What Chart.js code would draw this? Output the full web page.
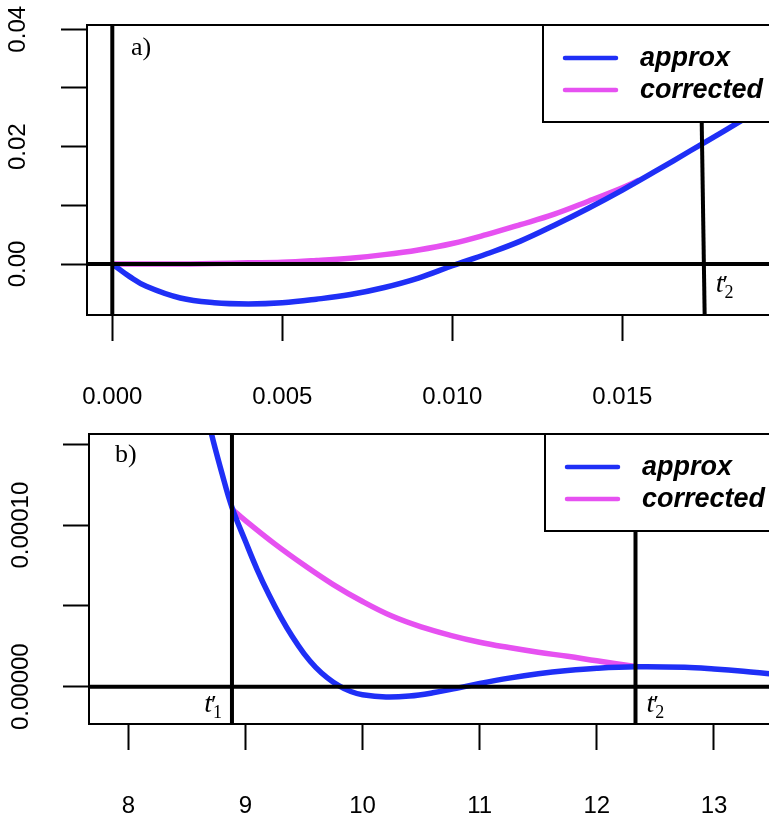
<!DOCTYPE html>
<html>
<head>
<meta charset="utf-8">
<script src="https://cdn.jsdelivr.net/npm/chart.js@4.4.1/dist/chart.umd.min.js"></script>
<style>
html, body { margin: 0; padding: 0; background: #fff; overflow: hidden; }
#wrap { position: relative; width: 769px; height: 817px; overflow: hidden; }
canvas { position: absolute; left: 0; }
#chartA { top: 0; }
#chartB { top: 410px; }
</style>
</head>
<body>
<div id="wrap">
  <canvas id="chartA" width="800" height="410"></canvas>
  <canvas id="chartB" width="800" height="407"></canvas>
</div>
<script>
// Panel a) data
const aX = [0, 0.0005, 0.001, 0.002, 0.003, 0.004, 0.005, 0.006, 0.007, 0.008, 0.009,
            0.010, 0.011, 0.012, 0.013, 0.014, 0.015, 0.016, 0.017, 0.018, 0.019, 0.020];
const aApprox = [0, -0.0021, -0.0038, -0.0058, -0.0066, -0.0068, -0.0066, -0.0060, -0.0052, -0.0040, -0.0024,
                 -0.0003, 0.0017, 0.0039, 0.0066, 0.0095, 0.0126, 0.0159, 0.0193, 0.0227, 0.0262, 0.0298];
const aCorrX = [0, 0.001, 0.002, 0.003, 0.004, 0.005, 0.006, 0.007, 0.008, 0.009,
                0.010, 0.011, 0.012, 0.013, 0.014, 0.015, 0.0155];
const aCorrected = [0, 0.0000, 0.0000, 0.0001, 0.0002, 0.0003, 0.0006, 0.0010, 0.0016, 0.0024,
                    0.0035, 0.0050, 0.0067, 0.0085, 0.0107, 0.0130, 0.0143];
const aXTicks = [0, 0.005, 0.010, 0.015];
const aXLabels = ['0.000', '0.005', '0.010', '0.015'];
const aYTicks = [0, 0.01, 0.02, 0.03, 0.04];
const aYLabels = ['0.00', '', '0.02', '', '0.04'];
const aXRange = [-0.000744, 0.01993];
const aYRange = [-0.00869, 0.04073];
const aT2Top = 0.01729;     // t'2 line leans slightly
const aT2Bottom = 0.01742;

// Panel b) data
const bX = [8.6, 8.7, 8.8, 8.885, 9.0, 9.1, 9.2, 9.3, 9.4, 9.5, 9.6, 9.7, 9.8, 9.9, 10.0,
            10.2, 10.4, 10.6, 10.8, 11.0, 11.25, 11.5, 11.75, 12.0, 12.33, 12.75, 13.0, 13.25, 13.5, 13.7];
const bApprox = [1.93e-4, 1.595e-4, 1.32e-4, 1.11e-4, 9.0e-5, 7.25e-5, 5.7e-5, 4.32e-5, 3.1e-5, 2.05e-5,
                 1.2e-5, 5.5e-6, 5e-7, -3.0e-6, -5.0e-6, -6.4e-6, -5.8e-6, -3.8e-6, -1.0e-6, 2.0e-6,
                 5.3e-6, 8.0e-6, 1.0e-5, 1.14e-5, 1.23e-5, 1.2e-5, 1.1e-5, 9.6e-6, 7.8e-6, 6.5e-6];
const bCorrX = [8.885, 9.0, 9.25, 9.5, 9.75, 10.0, 10.25, 10.5, 10.75, 11.0, 11.25, 11.5, 11.75, 12.0, 12.33];
const bCorrected = [1.10e-4, 1.028e-4, 8.84e-5, 7.53e-5, 6.32e-5, 5.27e-5, 4.37e-5, 3.7e-5, 3.18e-5,
                    2.75e-5, 2.42e-5, 2.13e-5, 1.88e-5, 1.6e-5, 1.25e-5];
const bXTicks = [8, 9, 10, 11, 12, 13];
const bXLabels = ['8', '9', '10', '11', '12', '13'];
const bYTicks = [0, 0.00005, 0.00010, 0.00015];
const bYLabels = ['0.00000', '', '0.00010', ''];
const bXRange = [7.6645, 13.649];
const bYRange = [-0.0000231, 0.0001564];
const bT1 = 8.885;
const bT2 = 12.33;

const SANS = "'Liberation Sans', Arial, sans-serif";
const SERIF = "'Liberation Serif', 'DejaVu Serif', serif";
const BLUE = '#1f2ff6';
const MAGENTA = '#e651f1';

const seriesLabels = ['approx', 'corrected'];

function pts(xs, ys) {
    return xs.map((x, i) => ({ x: x, y: ys[i] }));
}

// Draw t' with stacked prime and subscript
function drawPrime(ctx, xPix, yBase, sub, side) {
    ctx.save();
    ctx.fillStyle = '#000';
    ctx.textBaseline = 'alphabetic';
    ctx.textAlign = 'left';
    ctx.font = `italic 28px ${SERIF}`;
    const wt = ctx.measureText('t').width;
    ctx.font = `18px ${SERIF}`;
    const ws = ctx.measureText(sub).width;
    const total = wt + 1 + ws;
    const x0 = side === 'right' ? xPix + 11 : xPix - 10 - total;
    ctx.font = `italic 28px ${SERIF}`;
    ctx.fillText('t', x0, yBase);
    ctx.font = `26px ${SERIF}`;
    ctx.fillText('\u2032', x0 + wt - 1, yBase + 1);
    ctx.font = `18px ${SERIF}`;
    ctx.fillText(sub, x0 + wt + 1, yBase + 6);
    ctx.restore();
}

function makePanel(canvasId, cfg) {
    const rPlot = {
        id: 'rPlot',
        afterDraw(chart) {
            const { ctx, chartArea: ca } = chart;
            const y = chart.scales.y;
            const x = chart.scales.x;
            ctx.save();

            // plot box
            ctx.strokeStyle = '#000';
            ctx.lineWidth = 2;
            ctx.strokeRect(ca.left, ca.top, ca.right - ca.left, ca.bottom - ca.top);

            // rotated y tick labels
            ctx.fillStyle = '#000';
            ctx.font = `24px ${SANS}`;
            ctx.textAlign = 'center';
            ctx.textBaseline = 'middle';
            cfg.yTicks.forEach((v, i) => {
                if (!cfg.yLabels[i]) return;
                ctx.save();
                ctx.translate(cfg.yLabelX, y.getPixelForValue(v));
                ctx.rotate(-Math.PI / 2);
                ctx.fillText(cfg.yLabels[i], 0, 0);
                ctx.restore();
            });

            // panel tag
            ctx.font = `26px ${SERIF}`;
            ctx.textAlign = 'left';
            ctx.textBaseline = 'alphabetic';
            ctx.fillText(cfg.tag, ca.left + cfg.tagPos[0], ca.top + cfg.tagPos[1]);

            // t' labels
            const yBase = y.getPixelForValue(0) + cfg.primeDy;
            cfg.primes.forEach(p => drawPrime(ctx, x.getPixelForValue(p.x), yBase, p.sub, p.side));

            // legend
            const lx = ca.left + 456;
            const ly = ca.top;
            ctx.fillStyle = '#fff';
            ctx.fillRect(lx, ly, ca.right - lx + 5, 97);
            ctx.strokeStyle = '#000';
            ctx.lineWidth = 2;
            ctx.strokeRect(lx, ly, ca.right - lx + 5, 97);
            ctx.lineWidth = 4.5;
            ctx.lineCap = 'round';
            [BLUE, MAGENTA].forEach((c, i) => {
                ctx.strokeStyle = c;
                ctx.beginPath();
                ctx.moveTo(lx + 22, ly + 33 + i * 32);
                ctx.lineTo(lx + 73, ly + 33 + i * 32);
                ctx.stroke();
            });
            ctx.fillStyle = '#000';
            ctx.font = `italic bold 27px ${SANS}`;
            ctx.textBaseline = 'middle';
            seriesLabels.forEach((s, i) => ctx.fillText(s, lx + 97, ly + 34 + i * 32));
            ctx.restore();
        }
    };

    const black = (data) => ({
        data: data, borderColor: '#000', borderWidth: 4, pointRadius: 0,
        fill: false, tension: 0, order: 0, clip: 0, borderCapStyle: 'butt'
    });

    return new Chart(document.getElementById(canvasId), {
        type: 'line',
        data: {
            datasets: [
                ...cfg.refLines.map(black),
                {
                    label: seriesLabels[0],
                    data: cfg.approx,
                    borderColor: BLUE,
                    borderWidth: 5.5,
                    pointRadius: 0,
                    fill: false,
                    tension: 0.4,
                    order: 1,
                    clip: 0
                },
                {
                    label: seriesLabels[1],
                    data: cfg.corrected,
                    borderColor: MAGENTA,
                    borderWidth: 5.5,
                    pointRadius: 0,
                    fill: false,
                    tension: 0.4,
                    order: 2,
                    clip: 0
                }
            ]
        },
        options: {
            responsive: false,
            animation: false,
            devicePixelRatio: 1,
            layout: { padding: { left: 0, right: 10, top: cfg.padTop, bottom: 0 } },
            plugins: {
                legend: { display: false },
                tooltip: { enabled: false }
            },
            scales: {
                x: {
                    type: 'linear',
                    min: cfg.xRange[0],
                    max: cfg.xRange[1],
                    afterBuildTicks: s => { s.ticks = cfg.xTicks.map(v => ({ value: v })); },
                    afterFit: s => { s.height = cfg.xAxisHeight; },
                    grid: { drawOnChartArea: false, drawTicks: true, tickLength: 26, tickWidth: 2, tickColor: '#000' },
                    border: { display: false },
                    ticks: {
                        padding: 42,
                        color: '#000',
                        maxRotation: 0,
                        autoSkip: false,
                        font: { family: SANS, size: 24 },
                        callback: (v, i) => cfg.xLabels[i]
                    }
                },
                y: {
                    type: 'linear',
                    min: cfg.yRange[0],
                    max: cfg.yRange[1],
                    afterBuildTicks: s => { s.ticks = cfg.yTicks.map(v => ({ value: v })); },
                    afterFit: s => { s.width = cfg.yAxisWidth; },
                    grid: { drawOnChartArea: false, drawTicks: true, tickLength: 26, tickWidth: 2, tickColor: '#000' },
                    border: { display: false },
                    ticks: { display: false }
                }
            }
        },
        plugins: [rPlot]
    });
}

makePanel('chartA', {
    approx: pts(aX, aApprox),
    corrected: pts(aCorrX, aCorrected),
    refLines: [
        [{ x: aXRange[0], y: 0 }, { x: aXRange[1], y: 0 }],
        [{ x: 0, y: aYRange[0] }, { x: 0, y: aYRange[1] }],
        [{ x: aT2Top, y: aYRange[1] }, { x: aT2Bottom, y: aYRange[0] }]
    ],
    xRange: aXRange, yRange: aYRange,
    xTicks: aXTicks, xLabels: aXLabels,
    yTicks: aYTicks, yLabels: aYLabels,
    padTop: 25, xAxisHeight: 95, yAxisWidth: 87, yLabelX: 18,
    tag: 'a)', tagPos: [44, 30],
    primeDy: 28,
    primes: [{ x: aT2Bottom, sub: '2', side: 'right' }]
});

makePanel('chartB', {
    approx: pts(bX, bApprox),
    corrected: pts(bCorrX, bCorrected),
    refLines: [
        [{ x: bXRange[0], y: 0 }, { x: bXRange[1], y: 0 }],
        [{ x: bT1, y: bYRange[0] }, { x: bT1, y: bYRange[1] }],
        [{ x: bT2, y: bYRange[0] }, { x: bT2, y: bYRange[1] }]
    ],
    xRange: bXRange, yRange: bYRange,
    xTicks: bXTicks, xLabels: bXLabels,
    yTicks: bYTicks, yLabels: bYLabels,
    padTop: 24, xAxisHeight: 93, yAxisWidth: 89, yLabelX: 21,
    tag: 'b)', tagPos: [26, 28],
    primeDy: 25,
    primes: [{ x: bT1, sub: '1', side: 'left' }, { x: bT2, sub: '2', side: 'right' }]
});
</script>
</body>
</html>
